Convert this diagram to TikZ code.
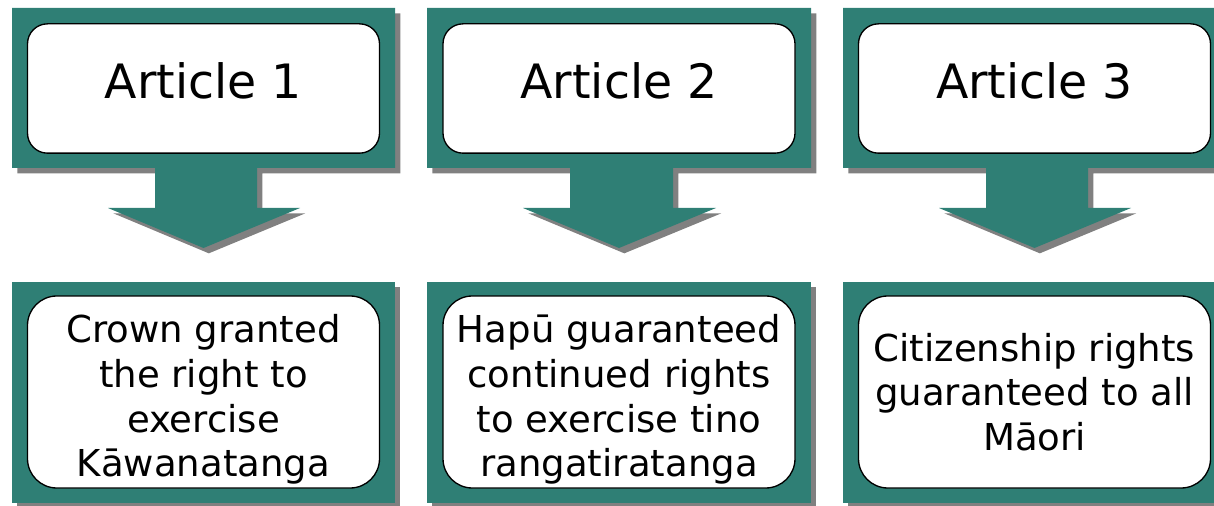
\documentclass[tikz,border=0pt]{standalone}
\usepackage{fontspec}
\setmainfont{DejaVu Sans}
\usetikzlibrary{shadows}
\definecolor{treatyteal}{RGB}{47,127,117}
\definecolor{shadowgrey}{RGB}{128,128,128}
\tikzset{
  callout/.style={fill=treatyteal, drop shadow={shadow xshift=4pt, shadow yshift=-4pt, fill=shadowgrey, opacity=1}},
  articlebox/.style={draw=black, line width=1pt, fill=white, rounded corners=15pt, minimum width=264pt, minimum height=97pt, text depth=12pt, font=\fontsize{35.5}{42}\selectfont},
  rightsbox/.style={draw=black, line width=1pt, fill=white, rounded corners=22pt, minimum width=264pt, minimum height=144pt, align=center, font=\fontsize{27.8}{33.5}\selectfont},
  fourlines/.style={inner ysep=0pt, execute at begin node=\rule{0pt}{133pt}}
}
\begin{document}
\begin{tikzpicture}[x=0.75pt,y=-0.75pt]
	\useasboundingbox (0,0) rectangle (1214,506);
	% teal arrow shapes
	\fill [callout] (12,8) -- (395,8) -- (395,168) -- (257,168) -- (257,208) -- (300,208) -- (203.5,248) -- (108,208) -- (155,208) -- (155,168) -- (12,168) -- cycle;
	\fill [callout] (427,8) -- (811,8) -- (811,168) -- (673,168) -- (673,208) -- (716,208) -- (619,248) -- (523,208) -- (570,208) -- (570,168) -- (427,168) -- cycle;
	\fill [callout] (843,8) -- (1226,8) -- (1226,168) -- (1088,168) -- (1088,208) -- (1131,208) -- (1034.5,248) -- (939,208) -- (986,208) -- (986,168) -- (843,168) -- cycle;
	% teal panels below
	\fill [callout] (12,282) rectangle (395,503);
	\fill [callout] (427,282) rectangle (811,503);
	\fill [callout] (843,282) rectangle (1226,503);
	% articles
	\node [articlebox] (art1) at (203.5,88.5) {Article 1};
	\node [articlebox] (art2) at (619,88.5) {Article 2};
	\node [articlebox] (art3) at (1034.5,88.5) {Article 3};
	% rights
	\node [rightsbox, fourlines] (rights1) at (203.5,392) {Crown granted\\the right to\\exercise\\Kāwanatanga};
	\node [rightsbox, fourlines] (rights2) at (619,392) {Hapū guaranteed\\continued rights\\to exercise tino\\rangatiratanga};
	\node [rightsbox] (rights3) at (1034.5,392) {Citizenship rights\\guaranteed to all\\Māori};
\end{tikzpicture}
\end{document}
